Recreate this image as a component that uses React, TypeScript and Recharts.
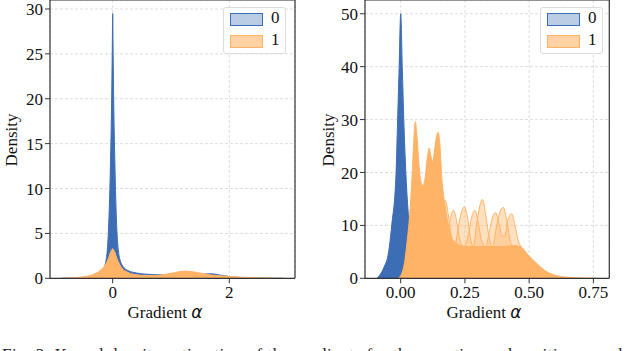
import React from 'react'
import { AreaChart, Area, XAxis, YAxis, CartesianGrid, ReferenceLine, Legend } from 'recharts'

type Pt = [number, number]

// left panel, class 0 / class 1 densities (x = gradient, y = density)
const leftClass0: Pt[] = [
  [-0.884, 0], [-0.6, 0.02], [-0.4, 0.1], [-0.3, 0.3], [-0.18, 0.8], [-0.12, 1.8],
  [-0.075, 5], [-0.037, 13], [-0.017, 20], [-0.006, 26], [0, 29.5], [0.006, 26],
  [0.017, 20], [0.037, 13], [0.075, 5], [0.12, 2.2], [0.18, 1.3], [0.25, 0.9],
  [0.4, 0.6], [0.6, 0.45], [0.8, 0.4], [1.0, 0.35], [1.25, 0.4], [1.5, 0.45],
  [1.7, 0.5], [1.85, 0.35], [2.0, 0.2], [2.2, 0.08], [2.5, 0.02], [2.936, 0],
]
const leftClass1: Pt[] = [
  [-0.884, 0], [-0.6, 0.1], [-0.4, 0.3], [-0.25, 0.7], [-0.15, 1.3], [-0.08, 2.1],
  [-0.03, 3.0], [0, 3.3], [0.03, 3.0], [0.08, 2.1], [0.15, 1.2], [0.25, 0.7],
  [0.4, 0.4], [0.6, 0.3], [0.8, 0.35], [1.0, 0.55], [1.25, 0.8], [1.45, 0.65],
  [1.65, 0.4], [1.9, 0.25], [2.2, 0.12], [2.5, 0.05], [2.936, 0],
]
const leftXTicks = [0, 2]
const leftYTicks = [0, 5, 10, 15, 20, 25, 30]

// right panel
const rightClass0: Pt[] = [
  [-0.093, 0], [-0.066, 2], [-0.047, 5], [-0.035, 10], [-0.018, 20], [-0.012, 30],
  [-0.006, 40], [0, 50], [0.006, 40], [0.012, 30], [0.02, 20], [0.033, 10],
  [0.045, 4], [0.06, 1], [0.08, 0],
]
const rightClass1: Pt[] = [
  [-0.01, 0], [0.005, 1], [0.015, 3], [0.025, 7], [0.035, 12], [0.045, 20],
  [0.052, 27], [0.057, 29.6], [0.063, 27], [0.072, 21], [0.08, 18], [0.087, 17.5],
  [0.095, 19], [0.104, 23], [0.111, 24.6], [0.118, 23], [0.124, 22], [0.13, 23.5],
  [0.138, 26.5], [0.146, 27.6], [0.153, 25], [0.16, 19], [0.168, 15.3], [0.178, 12],
  [0.19, 9], [0.2, 7.5], [0.22, 6.5], [0.25, 6], [0.3, 6], [0.35, 6], [0.4, 6],
  [0.44, 6.2], [0.465, 6], [0.5, 4.2], [0.53, 2.8], [0.56, 1.5], [0.6, 0.6],
  [0.65, 0.2], [0.7, 0.08], [0.77, 0],
]
// the lighter bumps of the individual class 1 curves
const rightClass1PeaksA: Pt[] = [
  [0.14, 6], [0.157, 11.5], [0.172, 14.8], [0.187, 11.5], [0.2, 7], [0.21, 6],
  [0.222, 9], [0.235, 12.3], [0.247, 13.5], [0.26, 11.5], [0.272, 7.5], [0.283, 6],
  [0.295, 10], [0.307, 13.5], [0.318, 14.9], [0.331, 12], [0.345, 7.5], [0.358, 6],
  [0.372, 9.5], [0.386, 12.5], [0.399, 13.4], [0.413, 11], [0.427, 7], [0.44, 6],
]
const rightClass1PeaksB: Pt[] = [
  [0.175, 6], [0.19, 10.5], [0.205, 12.9], [0.219, 10.5], [0.232, 7], [0.247, 6],
  [0.262, 8], [0.276, 11.5], [0.289, 12.8], [0.302, 10.5], [0.316, 7], [0.33, 6],
  [0.344, 8.5], [0.357, 11.5], [0.37, 12.4], [0.382, 10.5], [0.395, 8], [0.405, 8],
  [0.417, 11], [0.432, 12.2], [0.445, 10], [0.458, 7], [0.47, 6],
]
const rightXTicks = [0, 0.25, 0.5, 0.75]
const rightYTicks = [0, 10, 20, 30, 40, 50]

const legendLabels = ['0', '1']
const caption = 'Fig. 3:  Kernel density estimation of the gradients for the negative and positive samples'

const BLUE = '#3c6db5'
const ORANGE = '#ffb366'
const FRAME = '#333'
const SERIF = '"Liberation Serif", "Times New Roman", serif'
const PATCHES = [
  { fill: 'rgba(60,109,181,0.35)', stroke: BLUE },
  { fill: 'rgba(255,179,102,0.6)', stroke: ORANGE },
]

function mergeSeries(series: Record<string, Pt[]>) {
  const rows = new Map<number, Record<string, number>>()
  Object.entries(series).forEach(([key, pts]) => {
    pts.forEach(([x, y]) => {
      const row = rows.get(x) ?? { x }
      row[key] = y
      rows.set(x, row)
    })
  })
  return [...rows.values()].sort((a, b) => a.x - b.x)
}

const leftData = mergeSeries({ c0: leftClass0, c1: leftClass1 })
const rightData = mergeSeries({
  c0: rightClass0,
  c1: rightClass1,
  pa: rightClass1PeaksA,
  pb: rightClass1PeaksB,
})

const renderLegend = () => (
  <div
    style={{
      position: 'relative',
      width: 63,
      height: 47,
      boxSizing: 'border-box',
      border: '1px solid #dcdcdc',
      borderRadius: 3,
      background: 'rgba(255,255,255,0.85)',
      fontFamily: SERIF,
      fontSize: 17,
      color: '#111',
    }}
  >
    {legendLabels.map((label, i) => (
      <div key={label}>
        <div
          style={{
            position: 'absolute',
            left: 6,
            top: 5 + i * 22,
            width: 31,
            height: 11,
            background: PATCHES[i].fill,
            border: `1px solid ${PATCHES[i].stroke}`,
          }}
        />
        <div style={{ position: 'absolute', left: 47, top: 1 + i * 22, lineHeight: '18px' }}>{label}</div>
      </div>
    ))}
  </div>
)

type PanelProps = {
  left: number
  width: number
  marginRight: number
  data: any[]
  xDomain: [number, number]
  yDomain: [number, number]
  xTicks: number[]
  yTicks: number[]
  xFormat: (v: number) => string
  xLabelCenter: number
  yLabelX: number
  legendLeft: number
  children: React.ReactNode
}

function Panel(p: PanelProps) {
  const tickStyle = { fontSize: 17, fill: '#111', fontFamily: SERIF }
  return (
    <div style={{ position: 'absolute', left: p.left, top: 0 }}>
      <AreaChart
        width={p.width}
        height={351}
        data={p.data}
        margin={{ top: 0, right: p.marginRight, bottom: 42.7, left: 0 }}
      >
        <CartesianGrid stroke="#dddddd" strokeDasharray="3 2" />
        <XAxis
          type="number"
          dataKey="x"
          domain={p.xDomain}
          ticks={p.xTicks}
          interval={0}
          allowDataOverflow
          height={30}
          tickFormatter={p.xFormat}
          tick={tickStyle}
          tickSize={5}
          tickMargin={3}
          axisLine={{ stroke: FRAME, strokeWidth: 1.2 }}
          tickLine={{ stroke: FRAME }}
          label={{
            content: () => (
              <text x={p.xLabelCenter} y={318} textAnchor="middle" fontFamily={SERIF} fontSize={17} fill="#111">
                Gradient{' '}
                <tspan fontFamily="DejaVu Sans" fontStyle="italic">
                  α
                </tspan>
              </text>
            ),
          }}
        />
        <YAxis
          type="number"
          domain={p.yDomain}
          ticks={p.yTicks}
          interval={0}
          allowDataOverflow
          width={50}
          tick={tickStyle}
          tickSize={5}
          tickMargin={2}
          axisLine={{ stroke: FRAME, strokeWidth: 1.2 }}
          tickLine={{ stroke: FRAME }}
          label={{
            content: () => (
              <text
                x={p.yLabelX}
                y={140}
                transform={`rotate(-90, ${p.yLabelX}, 140)`}
                textAnchor="middle"
                dominantBaseline="central"
                fontFamily={SERIF}
                fontSize={17}
                fill="#111"
              >
                Density
              </text>
            ),
          }}
        />
        {p.children}
        <ReferenceLine x={p.xDomain[1]} stroke={FRAME} strokeWidth={1.2} />
        <ReferenceLine y={p.yDomain[1]} stroke={FRAME} strokeWidth={1.2} />
        <Legend
          layout="horizontal"
          verticalAlign="middle"
          content={renderLegend}
          wrapperStyle={{ left: p.legendLeft - p.left, top: 7, width: 63, height: 47 }}
        />
      </AreaChart>
    </div>
  )
}

const areaProps = {
  type: 'monotone' as const,
  isAnimationActive: false,
  connectNulls: true,
  dot: false,
  activeDot: false,
  strokeWidth: 1,
}

export default function App() {
  return (
    <div style={{ position: 'absolute', left: 0, top: 0, width: 640, height: 351, overflow: 'hidden', background: '#fff' }}>
      <Panel
        left={0}
        width={320}
        marginRight={25}
        data={leftData}
        xDomain={[-1.075, 3.127]}
        yDomain={[0, 31]}
        xTicks={leftXTicks}
        yTicks={leftYTicks}
        xFormat={(v) => String(v)}
        xLabelCenter={165}
        yLabelX={11.5}
        legendLeft={223}
      >
        <Area {...areaProps} dataKey="c0" stroke={BLUE} fill={BLUE} fillOpacity={1} />
        <Area {...areaProps} dataKey="c1" stroke={ORANGE} fill={ORANGE} fillOpacity={1} />
      </Panel>
      <Panel
        left={315}
        width={325}
        marginRight={30.7}
        data={rightData}
        xDomain={[-0.139, 0.812]}
        yDomain={[0, 52.6]}
        xTicks={rightXTicks}
        yTicks={rightYTicks}
        xFormat={(v) => v.toFixed(2)}
        xLabelCenter={169}
        yLabelX={13}
        legendLeft={540}
      >
        <Area {...areaProps} dataKey="c0" stroke={BLUE} fill={BLUE} fillOpacity={1} />
        <Area {...areaProps} dataKey="pa" stroke={ORANGE} fill={ORANGE} fillOpacity={0.4} />
        <Area {...areaProps} dataKey="pb" stroke={ORANGE} fill={ORANGE} fillOpacity={0.4} />
        <Area {...areaProps} dataKey="c1" stroke={ORANGE} fill={ORANGE} fillOpacity={1} />
      </Panel>
      <svg width={640} height={351} style={{ position: 'absolute', left: 0, top: 0, pointerEvents: 'none' }}>
        <text x={2} y={359.6} textLength={636} lengthAdjust="spacing" fontFamily={SERIF} fontSize={17} fill="#222">
          {caption}
        </text>
      </svg>
    </div>
  )
}
